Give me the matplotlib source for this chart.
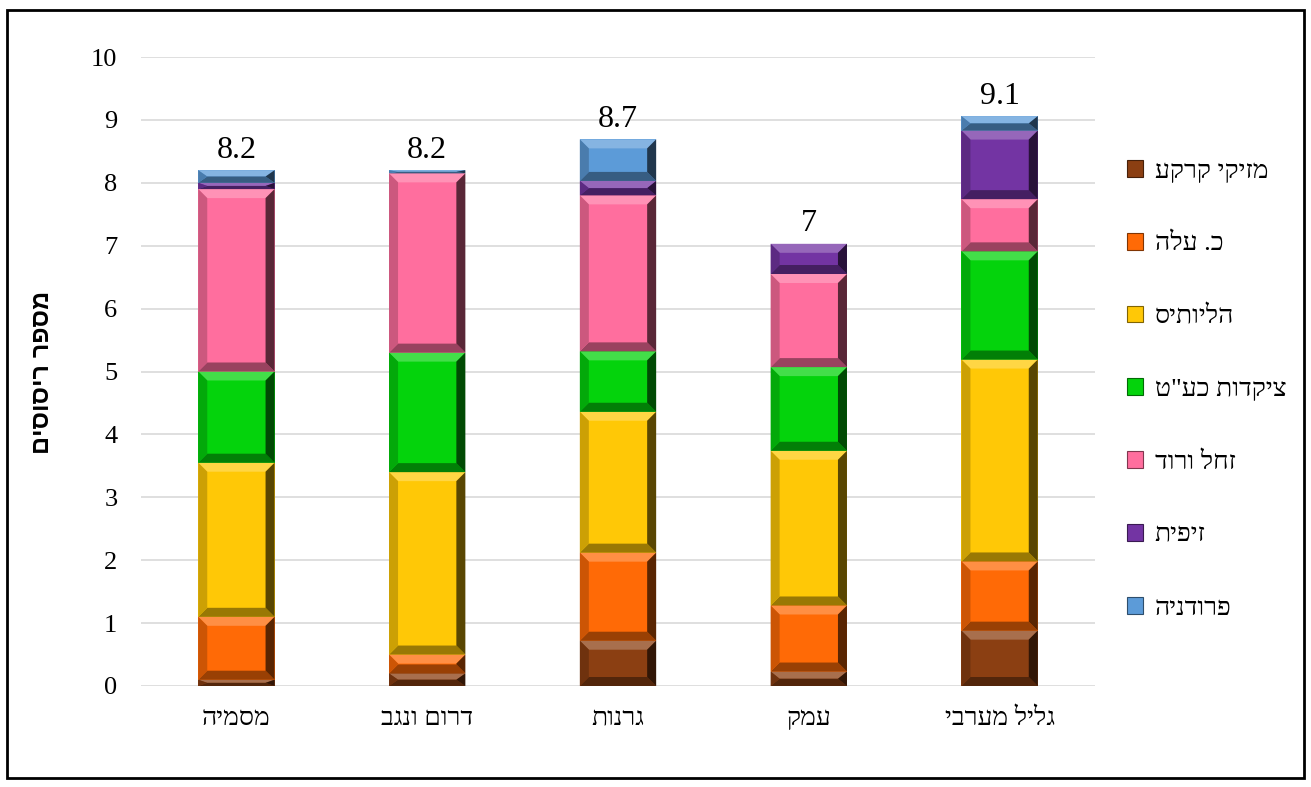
import matplotlib
matplotlib.use("Agg")
import matplotlib.pyplot as plt
from matplotlib.patches import Patch, Rectangle
import numpy as np
from matplotlib.colors import to_rgb

categories = ["מסמיה", "דרום ונגב", "גרנות", "עמק", "גליל מערבי"]
series_names = ["מזיקי קרקע", "כ. עלה", "הליותיס", "ציקדות כע\"ט", "זחל ורוד", "זיפית", "פרודניה"]
brown = [0.10, 0.20, 0.72, 0.23, 0.88]
orange = [1.00, 0.30, 1.40, 1.05, 1.10]
yellow = [2.45, 2.90, 2.24, 2.46, 3.21]
green = [1.45, 1.90, 0.96, 1.33, 1.72]
pink = [2.90, 2.85, 2.48, 1.48, 0.83]
purple = [0.10, 0.00, 0.23, 0.48, 1.09]
blue = [0.20, 0.05, 0.66, 0.00, 0.23]
series = [brown, orange, yellow, green, pink, purple, blue]
colors = ["#8B3F12", "#FF6A06", "#FFC806", "#04D30C", "#FF6E9E", "#7334A3", "#5C9BD8"]
yticks = list(range(0, 11))
ylabel = "מספר ריסוסים"


def rtl(s):
    return s[::-1]


def shade(c, f):
    r, g, b = to_rgb(c)
    if f >= 1:
        t = f - 1
        return (r + (1 - r) * t, g + (1 - g) * t, b + (1 - b) * t)
    return (r * f, g * f, b * f)


W, H = 1311, 787
fig = plt.figure(figsize=(W / 100, H / 100), dpi=100)
fam = ["Liberation Serif", "DejaVu Serif"]
ax = fig.add_axes([141 / W, 1 - 686 / H, (1095 - 141) / W, (686 - 57) / H])

x = np.arange(len(categories))
width = 0.4
bottom = np.zeros(len(categories))
px_x = 1.0 * len(categories) / (1095 - 141)
px_y = 10.0 / (686 - 57)
bev = 9
for vals, col in zip(series, colors):
    vals = np.array(vals)
    ax.bar(x, vals, width, bottom=bottom, color=col, edgecolor="none", zorder=3)
    for xi, v, b0 in zip(x, vals, bottom):
        if v <= 0:
            continue
        x0, x1 = xi - width / 2, xi + width / 2
        y0, y1 = b0, b0 + v
        by = min(bev * px_y, v / 2)
        bx = min(bev * px_x, width / 2)
        ax.fill([x0, x1, x1 - bx, x0 + bx], [y1, y1, y1 - by, y1 - by],
                color=shade(col, 1.25), lw=0, zorder=4)
        ax.fill([x0, x1, x1 - bx, x0 + bx], [y0, y0, y0 + by, y0 + by],
                color=shade(col, 0.6), lw=0, zorder=4)
        ax.fill([x0, x0 + bx, x0 + bx, x0], [y0, y0 + by, y1 - by, y1],
                color=shade(col, 0.8), lw=0, zorder=4)
        ax.fill([x1, x1 - bx, x1 - bx, x1], [y0, y0 + by, y1 - by, y1],
                color=shade(col, 0.35), lw=0, zorder=4)
    bottom = bottom + vals

for xi, tot in zip(x, bottom):
    ax.annotate(f"{round(tot, 1):g}", (xi, tot), xytext=(0, 4), textcoords="offset points",
                ha="center", va="bottom", fontsize=23, family=fam, zorder=6)

ax.set_xlim(-0.5, len(categories) - 0.5)
ax.set_ylim(0, 10)
ax.set_yticks(yticks)
ax.set_yticklabels([str(t) for t in yticks], fontsize=19, family=fam)
ax.set_xticks(x)
ax.set_xticklabels([rtl(c) for c in categories], fontsize=19, family=fam)
ax.tick_params(axis="y", length=0, pad=17)
ax.tick_params(axis="x", length=0, pad=16)
ax.grid(axis="y", color="#D9D9D9", lw=1.2, zorder=0)
for s in ax.spines.values():
    s.set_visible(False)

fig.text(42 / W, 1 - 372 / H, rtl(ylabel), rotation=90, ha="center", va="center",
         fontsize=18, fontweight="bold", family=["Liberation Sans", "DejaVu Sans"])

handles = [Patch(facecolor=c, edgecolor=shade(c, 0.5), lw=0.8) for c in colors]
leg = fig.legend(handles, [rtl(n) for n in series_names], loc="upper left",
                 bbox_to_anchor=(1127 / W, 1 - 160 / H), frameon=False,
                 prop={"family": fam, "size": 19}, handlelength=0.6, handleheight=0.6,
                 handletextpad=0.45, labelspacing=1.9, borderpad=0, borderaxespad=0)

fig.patches.append(Rectangle((7 / W, 1 - 778 / H), (1304 - 7) / W, (778 - 10) / H,
                             transform=fig.transFigure, fill=False, lw=2, ec="black"))

fig.savefig("out.png", dpi=100)
